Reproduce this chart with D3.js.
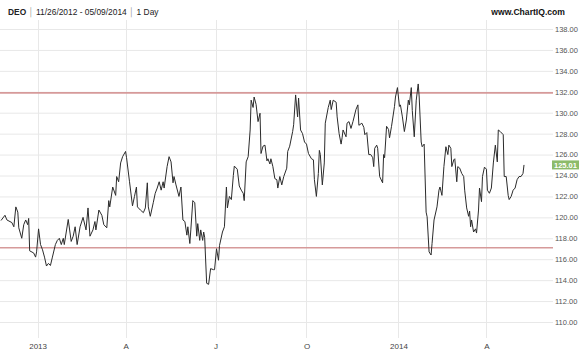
<!DOCTYPE html>
<html>
<head>
<meta charset="utf-8">
<script src="https://cdn.jsdelivr.net/npm/d3@7"></script>
<style>
  body { margin: 0; background: #fff; }
  svg { display: block; font-family: "Liberation Sans", Arial, sans-serif; }
</style>
</head>
<body>
<svg id="chart" width="580" height="354"></svg>
<script>
// DEO daily close
const fechas = [
  "2012-11-26","2012-11-30","2012-12-02","2012-12-07","2012-12-09","2012-12-11","2012-12-13","2012-12-14",
  "2012-12-17","2012-12-19","2012-12-21","2012-12-23","2012-12-24","2012-12-25","2012-12-29","2012-12-31",
  "2013-01-01","2013-01-03","2013-01-05","2013-01-07","2013-01-09","2013-01-11","2013-01-13","2013-01-15",
  "2013-01-17","2013-01-20","2013-01-22","2013-01-24","2013-01-26","2013-01-28","2013-01-29","2013-01-31",
  "2013-02-02","2013-02-05","2013-02-07","2013-02-09","2013-02-11","2013-02-14","2013-02-17","2013-02-20",
  "2013-02-22","2013-02-24","2013-02-27","2013-03-01","2013-03-02","2013-03-05","2013-03-08","2013-03-10",
  "2013-03-13","2013-03-15","2013-03-16","2013-03-19","2013-03-22","2013-03-23","2013-03-25","2013-03-27",
  "2013-03-29","2013-04-01","2013-04-02","2013-04-05","2013-04-08","2013-04-10","2013-04-12","2013-04-13",
  "2013-04-16","2013-04-19","2013-04-21","2013-04-23","2013-04-24","2013-04-26","2013-04-29","2013-05-01",
  "2013-05-03","2013-05-05","2013-05-07","2013-05-09","2013-05-10","2013-05-13","2013-05-15","2013-05-17",
  "2013-05-19","2013-05-20","2013-05-22","2013-05-25","2013-05-27","2013-05-29","2013-05-31","2013-06-02",
  "2013-06-03","2013-06-05","2013-06-06","2013-06-08","2013-06-10","2013-06-12","2013-06-13","2013-06-15",
  "2013-06-16","2013-06-18","2013-06-19","2013-06-20","2013-06-22","2013-06-24","2013-06-26","2013-06-29",
  "2013-06-30","2013-07-02","2013-07-04","2013-07-05","2013-07-08","2013-07-10","2013-07-12","2013-07-13",
  "2013-07-15","2013-07-17","2013-07-19","2013-07-20","2013-07-23","2013-07-25","2013-07-27","2013-07-29",
  "2013-07-30","2013-08-01","2013-08-03","2013-08-05","2013-08-06","2013-08-08","2013-08-09","2013-08-11",
  "2013-08-13","2013-08-15","2013-08-16","2013-08-18","2013-08-20","2013-08-22","2013-08-23","2013-08-25",
  "2013-08-26","2013-08-28","2013-08-30","2013-09-01","2013-09-02","2013-09-04","2013-09-06","2013-09-08",
  "2013-09-11","2013-09-12","2013-09-14","2013-09-17","2013-09-18","2013-09-20","2013-09-22","2013-09-23",
  "2013-09-25","2013-09-27","2013-09-29","2013-10-01","2013-10-03","2013-10-06","2013-10-08","2013-10-09",
  "2013-10-11","2013-10-13","2013-10-14","2013-10-15","2013-10-17","2013-10-19","2013-10-20","2013-10-23",
  "2013-10-25","2013-10-26","2013-10-28","2013-10-31","2013-11-01","2013-11-03","2013-11-05","2013-11-06",
  "2013-11-07","2013-11-10","2013-11-11","2013-11-13","2013-11-15","2013-11-17","2013-11-20","2013-11-22",
  "2013-11-23","2013-11-26","2013-11-28","2013-11-29","2013-12-01","2013-12-03","2013-12-05","2013-12-07",
  "2013-12-08","2013-12-09","2013-12-11","2013-12-12","2013-12-14","2013-12-17","2013-12-18","2013-12-19",
  "2013-12-21","2013-12-23","2013-12-24","2013-12-26","2013-12-29","2013-12-30","2014-01-01","2014-01-03",
  "2014-01-04","2014-01-06","2014-01-08","2014-01-10","2014-01-12","2014-01-13","2014-01-15","2014-01-16",
  "2014-01-18","2014-01-20","2014-01-22","2014-01-23","2014-01-25","2014-01-26","2014-01-28","2014-01-30",
  "2014-01-31","2014-02-02","2014-02-04","2014-02-05","2014-02-07","2014-02-10","2014-02-12","2014-02-13",
  "2014-02-15","2014-02-17","2014-02-19","2014-02-21","2014-02-22","2014-02-24","2014-02-25","2014-02-27",
  "2014-02-28","2014-03-02","2014-03-03","2014-03-05","2014-03-07","2014-03-09","2014-03-10","2014-03-12",
  "2014-03-14","2014-03-15","2014-03-16","2014-03-17","2014-03-19","2014-03-21","2014-03-22","2014-03-24",
  "2014-03-25","2014-03-27","2014-03-28","2014-03-30","2014-04-01","2014-04-02","2014-04-04","2014-04-06",
  "2014-04-08","2014-04-10","2014-04-12","2014-04-13","2014-04-15","2014-04-18","2014-04-19","2014-04-21",
  "2014-04-23","2014-04-24","2014-04-26","2014-04-28","2014-04-30","2014-05-02","2014-05-04","2014-05-06",
  "2014-05-08","2014-05-09"
];
const cierres = [
  119.7,120.2,119.75,119.5,119.1,121.0,120.5,119.0,
  118.0,119.3,119.75,119.3,119.9,116.8,116.6,116.2,
  116.7,118.9,117.4,116.9,116.2,115.35,115.6,115.4,
  116.2,117.4,117.8,118.0,117.4,118.0,117.4,118.6,
  119.8,117.7,118.2,119.1,117.4,119.1,120.0,118.8,
  120.9,118.2,118.8,119.6,118.8,120.7,120.2,119.3,
  119.0,121.6,121.0,122.9,122.1,123.9,123.4,125.2,
  125.8,126.3,125.7,123.4,121.1,122.0,122.9,121.0,
  120.7,120.45,120.9,123.3,121.0,120.1,121.4,122.3,
  122.8,123.4,122.6,123.4,122.8,124.85,125.8,125.3,
  123.3,123.9,123.1,122.0,122.9,119.75,119.6,118.3,
  119.1,117.5,118.8,121.6,121.4,118.2,119.4,117.8,
  118.8,117.8,118.6,118.1,113.7,113.6,115.1,115.0,
  115.0,117.0,115.9,117.3,118.6,119.1,122.9,120.9,
  122.0,121.7,124.0,124.9,124.6,123.0,122.6,122.3,
  121.6,125.3,125.8,128.35,131.2,130.5,131.5,130.8,
  129.15,129.95,126.1,126.8,126.9,125.4,125.6,125.1,
  125.6,124.85,123.7,123.6,122.8,123.9,123.1,123.9,
  124.7,126.3,126.8,128.2,128.85,131.7,129.6,131.4,
  128.35,128.0,127.2,127.0,126.1,125.6,125.5,123.6,
  122.0,124.2,126.4,126.0,123.1,125.2,129.0,130.5,
  131.2,130.3,131.2,131.0,129.6,128.0,127.0,127.6,
  128.35,127.7,129.0,129.15,128.5,129.15,130.3,130.75,
  128.8,129.0,128.6,127.9,128.1,126.0,126.0,125.7,
  124.85,126.6,126.9,126.6,123.9,123.3,126.0,125.7,
  128.7,128.4,127.6,128.7,130.6,131.5,132.4,130.6,
  130.75,129.6,128.2,129.3,131.2,130.75,132.4,130.2,
  127.7,131.2,132.75,131.5,127.2,126.75,127.0,120.5,
  120.05,116.7,116.4,117.5,119.75,121.0,122.6,122.9,
  122.1,124.85,126.75,126.0,126.9,126.6,124.85,125.5,
  125.6,123.4,124.85,124.7,124.2,123.9,122.6,120.9,
  120.1,120.6,119.1,119.75,118.6,118.9,118.5,120.7,
  122.8,121.5,123.9,124.8,124.6,122.6,122.3,122.8,
  125.2,126.9,125.3,128.35,128.2,127.9,123.9,123.9,
  122.1,121.7,122.0,122.6,122.8,123.6,123.9,123.9,
  124.2,125.01
];
const ticksY = [110, 112, 114, 116, 118, 120, 122, 124, 126, 128, 130, 132, 134, 136, 138];
const ticksX = ["2013-01-02", "2013-04-01", "2013-07-01", "2013-10-01", "2014-01-02", "2014-04-01"];
const etiquetasX = ["2013", "A", "J", "O", "2014", "A"];
const lineasSoporte = [131.9, 117.1];
const ultimo = 125.01;

const parse = d3.timeParse("%Y-%m-%d");
const datos = fechas.map((f, i) => ({fecha: parse(f), valor: cierres[i]}));

const svg = d3.select("#chart");
const gridRight = 553;

const x = d3.scaleTime()
  .domain(d3.extent(datos, d => d.fecha))
  .range([1, 524]);

const y = d3.scaleLinear()
  .domain([110, 138])
  .range([322, 29]);

// Rejilla vertical
svg.append("g")
  .selectAll("line")
  .data(ticksX)
  .enter()
  .append("line")
  .attr("x1", d => Math.round(x(parse(d))) + 0.5)
  .attr("x2", d => Math.round(x(parse(d))) + 0.5)
  .attr("y1", 20)
  .attr("y2", 338)
  .attr("stroke", "#e8e8e8")
  .attr("stroke-width", 1);

// Rejilla horizontal + eje derecho
svg.append("g")
  .attr("transform", `translate(${gridRight},0)`)
  .call(d3.axisRight(y).tickValues(ticksY).tickFormat(d3.format(".2f")).tickSize(0).tickPadding(2))
  .call(g => g.select(".domain").remove())
  .call(g => g.selectAll(".tick line").clone()
    .attr("x1", -gridRight).attr("x2", 0)
    .attr("stroke", "#e8e8e8"))
  .call(g => g.selectAll(".tick text")
    .attr("fill", "#555")
    .attr("font-size", 7.5)
    .attr("font-family", "Liberation Sans, Arial, sans-serif"));

// Eje inferior
svg.append("g")
  .attr("transform", "translate(0,338)")
  .call(d3.axisBottom(x).tickValues(ticksX.map(parse)).tickFormat((d, i) => etiquetasX[i]).tickSize(0).tickPadding(5))
  .call(g => g.select(".domain").remove())
  .call(g => g.selectAll(".tick text")
    .attr("fill", "#444")
    .attr("font-size", 8)
    .attr("font-family", "Liberation Sans, Arial, sans-serif"));

// Líneas de soporte / resistencia
svg.append("g")
  .selectAll("line")
  .data(lineasSoporte)
  .enter()
  .append("line")
  .attr("x1", 0)
  .attr("x2", gridRight)
  .attr("y1", d => y(d))
  .attr("y2", d => y(d))
  .attr("stroke", "#d69a9a")
  .attr("stroke-width", 1.6);

// Serie de precios
const line = d3.line()
  .x(d => x(d.fecha))
  .y(d => y(d.valor));

svg.append("path")
  .datum(datos)
  .attr("fill", "none")
  .attr("stroke", "#2b2b2b")
  .attr("stroke-width", 1)
  .attr("stroke-linejoin", "round")
  .attr("d", line);

// Etiqueta de último precio
svg.append("rect")
  .attr("x", gridRight - 1)
  .attr("y", y(ultimo) - 4.5)
  .attr("width", 27)
  .attr("height", 9)
  .attr("fill", "#8dbb6a");
svg.append("text")
  .attr("x", gridRight + 12.5)
  .attr("y", y(ultimo) + 2.6)
  .attr("text-anchor", "middle")
  .attr("font-size", 7.5)
  .attr("font-weight", "bold")
  .attr("fill", "#fff")
  .text(ultimo.toFixed(2));

// Cabecera
const cab = svg.append("text")
  .attr("x", 8)
  .attr("y", 15)
  .attr("font-size", 8.4)
  .attr("fill", "#222");
cab.append("tspan").attr("font-weight", "bold").text("DEO");
cab.append("tspan").attr("fill", "#999").text(" │ ");
cab.append("tspan").text("11/26/2012 - 05/09/2014");
cab.append("tspan").attr("fill", "#999").text(" │ ");
cab.append("tspan").text("1 Day");

svg.append("text")
  .attr("x", 565)
  .attr("y", 15)
  .attr("text-anchor", "end")
  .attr("font-size", 8.6)
  .attr("font-weight", "bold")
  .attr("fill", "#111")
  .text("www.ChartIQ.com");
</script>
</body>
</html>
